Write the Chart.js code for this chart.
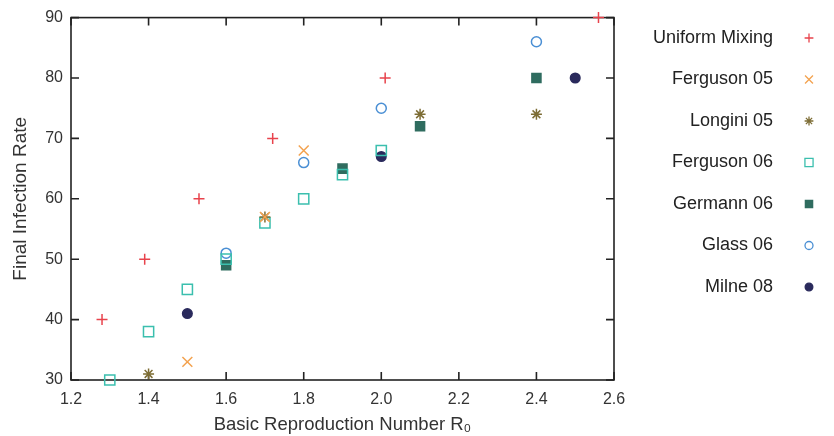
<!DOCTYPE html>
<html lang="en">
<head>
    <meta charset="UTF-8">
    <title>Final Infection Rate vs R0</title>
    <script src="https://cdn.jsdelivr.net/npm/chart.js"></script>
    <style>
        html, body { margin: 0; padding: 0; background: #fff; }
        #wrap { width: 834px; height: 436px; }
    </style>
</head>
<body>
    <div id="wrap"><canvas id="myChart"></canvas></div>

    <script>
        // data: [R0, final infection rate]
        const uniformMixing = [[1.28, 40], [1.39, 50], [1.53, 60], [1.72, 70], [2.01, 80], [2.56, 90]];
        const ferguson05 = [[1.5, 33], [1.7, 57], [1.8, 68]];
        const longini05 = [[1.4, 31], [1.7, 57], [2.1, 74], [2.4, 74]];
        const ferguson06 = [[1.3, 30], [1.4, 38], [1.5, 45], [1.6, 50], [1.7, 56], [1.8, 60], [1.9, 64], [2.0, 68]];
        const germann06 = [[1.6, 49], [1.9, 65], [2.1, 72], [2.4, 80]];
        const glass06 = [[1.6, 51], [1.8, 66], [2.0, 75], [2.4, 86]];
        const milne08 = [[1.5, 41], [2.0, 67], [2.5, 80]];

        const seriesNames = ['Uniform Mixing', 'Ferguson 05', 'Longini 05', 'Ferguson 06', 'Germann 06', 'Glass 06', 'Milne 08'];
        const xTicks = [1.2, 1.4, 1.6, 1.8, 2.0, 2.2, 2.4, 2.6];
        const yTicks = [30, 40, 50, 60, 70, 80, 90];

        const FONT = '"Liberation Sans", Arial, sans-serif';
        const toPts = arr => arr.map(p => ({ x: p[0], y: p[1] }));

        // marker style per series
        function series(label, pts, style, color, radius, filled) {
            return {
                label: label,
                data: toPts(pts),
                pointStyle: style,
                pointRadius: radius,
                pointHoverRadius: radius,
                pointBorderWidth: 1.5,
                borderColor: color,
                backgroundColor: filled ? color : 'rgba(0,0,0,0)',
                clip: false
            };
        }

        // box with inward ticks, like the original plot
        const framePlugin = {
            id: 'frame',
            beforeDatasetsDraw(chart) {
                const { ctx, chartArea: a, scales } = chart;
                ctx.save();
                ctx.strokeStyle = '#222';
                ctx.lineWidth = 1.6;
                ctx.strokeRect(a.left, a.top, a.right - a.left, a.bottom - a.top);
                const len = 8;
                ctx.beginPath();
                xTicks.forEach(v => {
                    const px = scales.x.getPixelForValue(v);
                    ctx.moveTo(px, a.bottom); ctx.lineTo(px, a.bottom - len);
                    ctx.moveTo(px, a.top); ctx.lineTo(px, a.top + len);
                });
                yTicks.forEach(v => {
                    const py = scales.y.getPixelForValue(v);
                    ctx.moveTo(a.left, py); ctx.lineTo(a.left + len, py);
                    ctx.moveTo(a.right, py); ctx.lineTo(a.right - len, py);
                });
                ctx.stroke();
                ctx.restore();
            }
        };

        // legend: text right-aligned, marker to its right
        const legendPlugin = {
            id: 'sideLegend',
            afterDraw(chart) {
                const ctx = chart.ctx;
                ctx.save();
                ctx.font = '18px ' + FONT;
                ctx.textAlign = 'right';
                ctx.textBaseline = 'middle';
                chart.data.datasets.forEach((ds, i) => {
                    const y = 38 + i * 41.5;
                    ctx.fillStyle = '#222';
                    ctx.fillText(ds.label, 773, y);
                    ctx.strokeStyle = ds.borderColor;
                    ctx.fillStyle = ds.backgroundColor;
                    ctx.lineWidth = 1.3;
                    Chart.helpers.drawPoint(ctx, {
                        pointStyle: ds.pointStyle,
                        radius: ds.pointRadius * 0.8,
                        rotation: 0,
                        borderWidth: 1.3
                    }, 809, y);
                });
                ctx.restore();
            }
        };

        const ctx = document.getElementById('myChart').getContext('2d');
        const myChart = new Chart(ctx, {
            type: 'scatter',
            data: {
                datasets: [
                    series(seriesNames[0], uniformMixing, 'cross', '#e8434c', 5.5, false),
                    series(seriesNames[1], ferguson05, 'crossRot', '#f3a24f', 7, false),
                    series(seriesNames[2], longini05, 'star', '#7d6d35', 5.5, false),
                    series(seriesNames[3], ferguson06, 'rect', '#3bbfae', 7.2, false),
                    series(seriesNames[4], germann06, 'rect', '#2f6c5f', 6.4, true),
                    series(seriesNames[5], glass06, 'circle', '#4a8fd4', 5, false),
                    series(seriesNames[6], milne08, 'circle', '#2a2a5c', 4.8, true)
                ]
            },
            options: {
                responsive: true,
                maintainAspectRatio: false,
                animation: false,
                layout: { padding: { left: 0, right: 220, top: 17, bottom: 0 } },
                plugins: {
                    legend: { display: false },
                    tooltip: { enabled: false }
                },
                scales: {
                    x: {
                        type: 'linear',
                        min: 1.2,
                        max: 2.6,
                        grid: { display: false, drawTicks: false },
                        border: { display: false },
                        afterBuildTicks: s => { s.ticks = xTicks.map(v => ({ value: v })); },
                        afterFit: s => { s.height = 56; },
                        ticks: {
                            padding: 10,
                            color: '#333',
                            font: { size: 16, family: FONT },
                            callback: v => Number(v).toFixed(1)
                        },
                        title: {
                            display: true,
                            text: 'Basic Reproduction Number R\u2080',
                            color: '#333',
                            font: { size: 18.5, family: FONT },
                            padding: { top: 0, bottom: 0 }
                        }
                    },
                    y: {
                        min: 30,
                        max: 90,
                        grid: { display: false, drawTicks: false },
                        border: { display: false },
                        afterBuildTicks: s => { s.ticks = yTicks.map(v => ({ value: v })); },
                        afterFit: s => { s.width = 71; },
                        ticks: {
                            padding: 8,
                            color: '#333',
                            font: { size: 16, family: FONT }
                        },
                        title: {
                            display: true,
                            text: 'Final Infection Rate',
                            color: '#333',
                            font: { size: 19, family: FONT },
                            padding: { top: 9, bottom: 0 }
                        }
                    }
                }
            },
            plugins: [framePlugin, legendPlugin]
        });
    </script>
</body>
</html>
